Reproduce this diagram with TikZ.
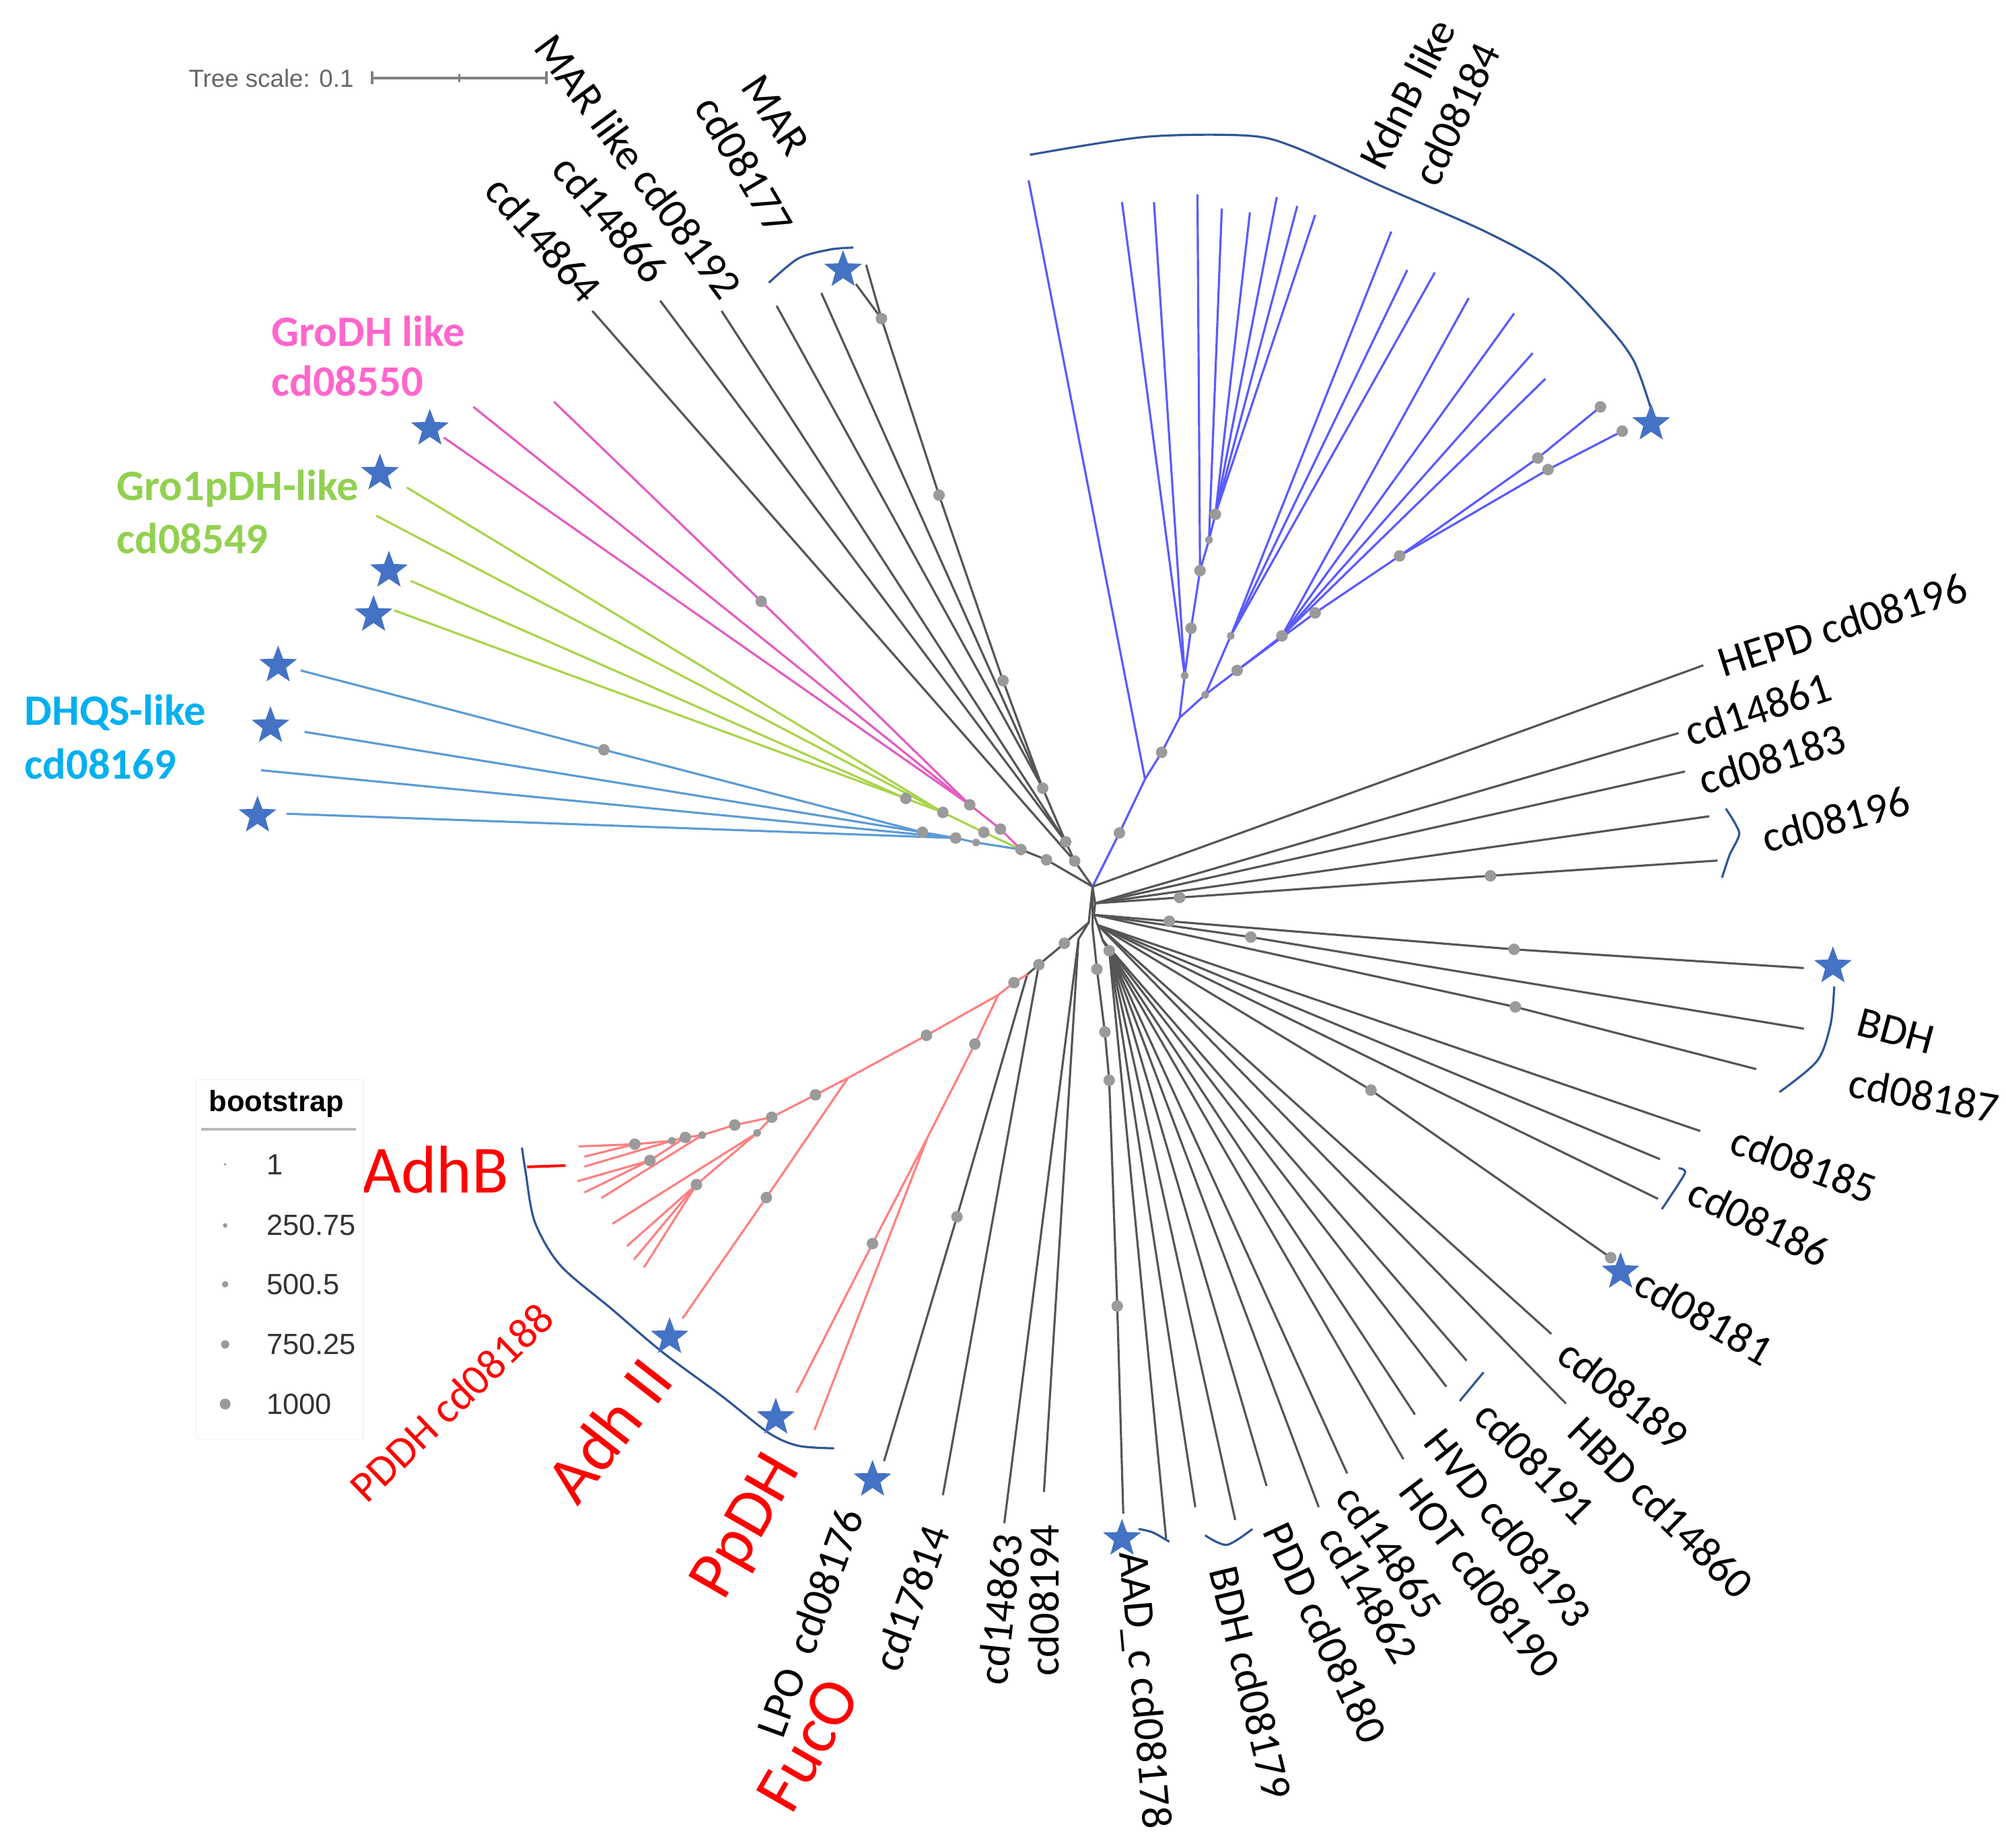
\documentclass[tikz,border=0pt]{standalone}
\usepackage{fontspec}
\setmainfont{Carlito}
\newfontfamily\arialf{Liberation Sans}
\usetikzlibrary{shapes.geometric}
\definecolor{brc}{HTML}{555555}
\definecolor{pinkc}{HTML}{E45BC0}
\definecolor{greenc}{HTML}{A8D44A}
\definecolor{bluec}{HTML}{5B9BD5}
\definecolor{kdc}{HTML}{5A5AFF}
\definecolor{redc}{HTML}{FF8080}
\definecolor{dotc}{HTML}{9A9A9A}
\definecolor{starc}{HTML}{4472C4}
\definecolor{arcc}{HTML}{2F5597}
\definecolor{lblred}{HTML}{FF0000}
\definecolor{lblpink}{HTML}{FF66CC}
\definecolor{lblgreen}{HTML}{92D050}
\definecolor{lblcyan}{HTML}{00B0F0}
\definecolor{scalec}{HTML}{666666}
\begin{document}
\begin{tikzpicture}[x=0.02cm,y=-0.02cm,
  brk/.style={draw=brc,line width=0.95pt},
  pk/.style={draw=pinkc,line width=0.95pt},
  gr/.style={draw=greenc,line width=0.95pt},
  bl/.style={draw=bluec,line width=0.95pt},
  kd/.style={draw=kdc,line width=0.95pt},
  rd/.style={draw=redc,line width=0.95pt},
  brack/.style={draw=arcc,line width=0.95pt},
  bstar/.style={star,star points=5,star point ratio=2.4,fill=starc,draw=none,minimum size=0.62cm,inner sep=0pt},
  lbl/.style={font=\fontsize{19.3}{23}\selectfont,inner sep=0pt},
  bigred/.style={font=\fontsize{30}{36}\selectfont,text=lblred,inner sep=0pt},
  grp/.style={font=\fontsize{19.3}{23}\selectfont\bfseries,inner sep=0pt,anchor=west},
  legt/.style={font=\arialf\fontsize{13}{15}\selectfont,text=black!80,inner sep=0pt,anchor=west}
]
\useasboundingbox (0,0) rectangle (1568,1444);
\fill[white] (0,0) rectangle (1568,1444);

% ---------- coordinates ----------
\coordinate (C) at (854,693);
% left coloured groups
\coordinate (J0) at (818,672);
\coordinate (J) at (798,664);
\coordinate (Pa) at (782,648);
\coordinate (Pb) at (758,629);
\coordinate (Pd) at (595,470);
\coordinate (P1) at (433,314);
\coordinate (P2) at (370,318);
\coordinate (P3) at (347,342);
\coordinate (Ga) at (769,650.5);
\coordinate (Gb) at (737,635);
\coordinate (Gc) at (708,624);
\coordinate (G1) at (318,381);
\coordinate (G2) at (294,403);
\coordinate (G3) at (321,454);
\coordinate (G4) at (308,477);
\coordinate (Ba) at (763,658.5);
\coordinate (Bb) at (747,655);
\coordinate (Bc) at (721,650.5);
\coordinate (Bd) at (472,586);
\coordinate (B1) at (235,524);
\coordinate (B2) at (238,572);
\coordinate (B3) at (204,602);
\coordinate (B4) at (224,636);
% MAR group
\coordinate (M0) at (840,673);
\coordinate (M1) at (833,658);
\coordinate (M2) at (815,616);
\coordinate (M3) at (784,532);
\coordinate (M4) at (734,387);
\coordinate (M5) at (689,249);
\coordinate (Ma) at (677,207);
\coordinate (Mb) at (669,222);
\coordinate (Mc) at (642,229);
\coordinate (Md) at (607,239);
\coordinate (Me) at (564,243);
\coordinate (Mf) at (516,235);
\coordinate (Mg) at (463,243);
% KdnB
\coordinate (K1) at (875,651);
\coordinate (K2) at (895,609);
\coordinate (K3) at (908,588);
\coordinate (K4) at (922,561);
\coordinate (K5) at (926,528);
\coordinate (K6) at (931,491);
\coordinate (K7) at (938,446);
\coordinate (K8) at (945,422);
\coordinate (K9) at (950,402);
\coordinate (K10) at (942,543);
\coordinate (K11) at (962,497);
\coordinate (K12) at (967,524);
\coordinate (K13) at (1002,497);
\coordinate (K14) at (1028,479);
\coordinate (K15) at (1094,434.5);
\coordinate (K16) at (1202,358);
\coordinate (K17) at (1210,367);
\coordinate (K18) at (1251,318);
\coordinate (K19) at (1268,337);
\coordinate (Ka) at (804,141);
\coordinate (Kb) at (877,158);
\coordinate (Kc) at (902,158);
\coordinate (Kd) at (936,152);
\coordinate (Ke) at (955,163);
\coordinate (Kf) at (977,166);
\coordinate (Kg) at (998,154);
\coordinate (Kh) at (1014,161);
\coordinate (Ki) at (1028,168);
\coordinate (Kj) at (1087.5,181);
\coordinate (Kk) at (1100,211);
\coordinate (Kl) at (1121.5,213);
\coordinate (Km) at (1148,233);
\coordinate (Kn) at (1183.5,245);
\coordinate (Ko) at (1198,276);
\coordinate (Kp) at (1208,296);
% right black
\coordinate (HE) at (1331.4,520);
\coordinate (Q0) at (856,706);
\coordinate (Q1) at (855,715);
\coordinate (Q2) at (858,723);
\coordinate (Q3) at (862,735);
\coordinate (Q4) at (867,743);
\coordinate (R1) at (1312,573);
\coordinate (R2) at (1317,603);
\coordinate (R3) at (1336,638);
\coordinate (R4) at (1342.5,672.6);
\coordinate (Rd1) at (922,701.5);
\coordinate (Rd2) at (1165,684.5);
\coordinate (Rs1) at (914,720);
\coordinate (Rs2) at (1183.5,742);
\coordinate (R5) at (1410,756.6);
\coordinate (Rs3) at (977.7,732.4);
\coordinate (R6) at (1410,804);
\coordinate (Rs4) at (1184.5,787);
\coordinate (R7) at (1372.8,835.6);
\coordinate (R8) at (1329,884);
\coordinate (R9) at (1297.5,906);
\coordinate (R10) at (1296,937);
\coordinate (Rs5) at (1071.6,852);
\coordinate (R11) at (1259,983);
\coordinate (R12) at (1212.6,1042.6);
\coordinate (R13) at (1224,1097);
\coordinate (R14) at (1146.4,1063.5);
\coordinate (R15) at (1130.5,1083.8);
\coordinate (R16) at (1106,1105.6);
\coordinate (R17) at (1097,1140.5);
\coordinate (R18) at (1053,1151.6);
\coordinate (R19) at (1030.8,1178);
\coordinate (R20) at (990,1161.4);
\coordinate (R21) at (965.5,1188);
\coordinate (R22) at (934.3,1178);
\coordinate (R23) at (911.5,1202.6);
\coordinate (Q5) at (854,725);
\coordinate (A1) at (857.4,757.5);
\coordinate (A2) at (863.6,806.6);
\coordinate (A3) at (867,844.3);
\coordinate (A4) at (873.3,1020.8);
\coordinate (R24) at (878,1183);
% bottom
\coordinate (U0) at (851,721);
\coordinate (U1) at (832,737.3);
\coordinate (U2) at (812,754);
\coordinate (U2b) at (803,761.5);
\coordinate (U3) at (792.6,768);
\coordinate (V0) at (843,734);
\coordinate (V1) at (785,1190.5);
\coordinate (V2) at (816,1166);
\coordinate (V3) at (737,1168.6);
\coordinate (Vd) at (748,951);
\coordinate (V4) at (691,1142);
% red
\coordinate (ra) at (780.3,777.6);
\coordinate (rb) at (762,816);
\coordinate (rc) at (725,889);
\coordinate (rdt) at (682,972);
\coordinate (w1) at (622.5,1088.6);
\coordinate (w2) at (636.6,1117.7);
\coordinate (rd) at (724.2,809.2);
\coordinate (re) at (662.8,842.5);
\coordinate (wd) at (599,936);
\coordinate (w3) at (533.5,1030.5);
\coordinate (F0) at (637.4,855.7);
\coordinate (F1) at (603.2,873.2);
\coordinate (F2) at (574.3,879.3);
\coordinate (F3) at (548.8,887.2);
\coordinate (F4) at (535.7,889);
\coordinate (F5) at (525.2,891.6);
\coordinate (F6) at (496.2,894.3);
\coordinate (F7) at (508,907);
\coordinate (F8) at (591.8,885.5);
\coordinate (F9) at (544.4,925.8);
\coordinate (Fa) at (452.4,896);
\coordinate (Fb) at (456.8,904);
\coordinate (Fc) at (456.8,911.8);
\coordinate (Fd) at (451.5,923.2);
\coordinate (Fe) at (456.8,932);
\coordinate (Ff) at (470,936.4);
\coordinate (Fg) at (490,974);
\coordinate (Fh) at (495.4,984.6);
\coordinate (Fi) at (503.3,990.7);
\coordinate (Fj) at (478.7,956.5);

% ---------- branches ----------
\draw[brk] (C) -- (J0) -- (J);
\draw[pk] (J) -- (Pa) -- (Pb) -- (Pd) -- (P1);
\draw[pk] (Pb) -- (P2);
\draw[pk] (Pb) -- (P3);
\draw[gr] (J) -- (Ga) -- (Gb) -- (Gc) -- (G3);
\draw[gr] (Gc) -- (G4);
\draw[gr] (Gb) -- (G1);
\draw[gr] (Gb) -- (G2);
\draw[bl] (J) -- (Ba) -- (Bb) -- (Bc) -- (Bd) -- (B1);
\draw[bl] (Bc) -- (B2);
\draw[bl] (Bb) -- (B3);
\draw[bl] (Bb) -- (B4);

\draw[brk] (C) -- (M0) -- (M1) -- (M2) -- (M3) -- (M4) -- (M5) -- (Ma);
\draw[brk] (M5) -- (Mb);
\draw[brk] (M2) -- (Mc);
\draw[brk] (M2) -- (Md);
\draw[brk] (M1) -- (Me);
\draw[brk] (M1) -- (Mf);
\draw[brk] (M0) -- (Mg);

\draw[kd] (C) -- (K1) -- (K2) -- (Ka);
\draw[kd] (K2) -- (K3) -- (K4) -- (K5) -- (Kb);
\draw[kd] (K5) -- (Kc);
\draw[kd] (K5) -- (K6) -- (K7) -- (Kd);
\draw[kd] (K7) -- (K8) -- (Ke);
\draw[kd] (K8) -- (K9) -- (Kf);
\draw[kd] (K9) -- (Kg);
\draw[kd] (K9) -- (Kh);
\draw[kd] (K9) -- (Ki);
\draw[kd] (K4) -- (K10) -- (K11) -- (Kj);
\draw[kd] (K11) -- (Kk);
\draw[kd] (K11) -- (Kl);
\draw[kd] (K10) -- (K12) -- (K13) -- (Km);
\draw[kd] (K13) -- (Kn);
\draw[kd] (K13) -- (Ko);
\draw[kd] (K13) -- (Kp);
\draw[kd] (K12) -- (K14) -- (K15) -- (K16) -- (K18);
\draw[kd] (K15) -- (K17) -- (K19);

\draw[brk] (C) -- (HE);
\draw[brk] (C) -- (Q0) -- (Q1) -- (Q2) -- (Q3) -- (Q4);
\draw[brk] (Q0) -- (R1);
\draw[brk] (Q0) -- (R2);
\draw[brk] (Q0) -- (R3);
\draw[brk] (Q0) -- (Rd1) -- (Rd2) -- (R4);
\draw[brk] (Q1) -- (Rs1) -- (Rs2) -- (R5);
\draw[brk] (Q1) -- (Rs3) -- (R6);
\draw[brk] (Q1) -- (Rs4) -- (R7);
\draw[brk] (Q2) -- (R8);
\draw[brk] (Q2) -- (R9);
\draw[brk] (Q2) -- (R10);
\draw[brk] (Q2) -- (Rs5) -- (R11);
\draw[brk] (Q2) -- (R12);
\draw[brk] (Q2) -- (R13);
\draw[brk] (Q3) -- (R14);
\draw[brk] (Q3) -- (R15);
\draw[brk] (Q3) -- (R16);
\draw[brk] (Q3) -- (R17);
\draw[brk] (Q4) -- (R18);
\draw[brk] (Q4) -- (R19);
\draw[brk] (Q4) -- (R20);
\draw[brk] (Q4) -- (R21);
\draw[brk] (Q4) -- (R22);
\draw[brk] (Q4) -- (R23);
\draw[brk] (C) -- (Q5) -- (A1) -- (A2) -- (A3) -- (A4) -- (R24);

\draw[brk] (C) -- (U0) -- (U1) -- (U2) -- (U2b);
\draw[brk] (U0) -- (V0) -- (V1);
\draw[brk] (V0) -- (V2);
\draw[brk] (U2) -- (V3);
\draw[brk] (U2b) -- (Vd) -- (V4);

\draw[rd] (U2b) -- (U3) -- (ra) -- (rb) -- (rc) -- (rdt) -- (w1);
\draw[rd] (rc) -- (w2);
\draw[rd] (ra) -- (rd) -- (re) -- (wd) -- (w3);
\draw[rd] (re) -- (F0) -- (F1) -- (F2) -- (F3) -- (F4) -- (F5) -- (F6) -- (Fa);
\draw[rd] (F6) -- (Fb);
\draw[rd] (F5) -- (Fc);
\draw[rd] (F4) -- (F7) -- (Fd);
\draw[rd] (F7) -- (Fe);
\draw[rd] (F3) -- (Ff);
\draw[rd] (F1) -- (F8) -- (F9) -- (Fg);
\draw[rd] (F9) -- (Fh);
\draw[rd] (F9) -- (Fi);
\draw[rd] (F8) -- (Fj);

% AdhB tick
\coordinate (ab1) at (412,912);
\coordinate (ab2) at (442,911);
\draw[draw=lblred,line width=1.2pt] (ab1) -- (ab2);

% ---------- brackets ----------
\draw[brack] plot[smooth] coordinates {(408,897) (411,917) (418,955) (438,989) (478,1023) (518,1057) (564,1091) (601,1120) (624,1130) (652,1132)};
\draw[brack] plot[smooth] coordinates {(805,121) (895,107) (975,106) (1012,115) (1081,146) (1161,181) (1214,211) (1256,254) (1277,282) (1290,318)};
\draw[brack] plot[smooth] coordinates {(601,221) (624,202) (649,195) (667,193.5)};
\draw[brack] plot[smooth] coordinates {(1391,853.5) (1420.5,829) (1431,800) (1433.7,771)};
\draw[brack] plot[smooth,tension=0.4] coordinates {(1349,632) (1359.5,651) (1352,668) (1346,686)};
\draw[brack] plot[smooth,tension=0.4] coordinates {(1312,913) (1317,917) (1299,945)};
\draw[brack] (1159.6,1072.6) -- (1141,1095);
\draw[brack] plot[smooth] coordinates {(890,1195) (901,1197.7) (914,1205)};
\draw[brack] plot[smooth] coordinates {(942,1200) (959,1207.4) (979,1195)};

% ---------- bootstrap dots ----------
\foreach \p in {J0,J,Pa,Pb,Pd,Ga,Gb,Gc,Bb,Bc,Bd,M0,M1,M2,M3,M4,M5,K1,K3,K6,K7,K9,K12,K13,K14,K15,K16,K17,K18,K19,Rd1,Rd2,Rs1,Rs2,Rs3,Rs4,Rs5,R11,Q4,A1,A2,A3,A4,U1,U2,U3,rb,rdt,rd,wd,F0,F1,F2,F4,F6,F7,F9,Vd}
  \fill[dotc] (\p) circle[radius=0.09cm];
\foreach \p in {K5,K8,K10,K11,Ba,F3,F5,F8}
  \fill[dotc] (\p) circle[radius=0.06cm];

% ---------- stars ----------
\node[bstar] (sMAR) at (659,211) {};
\node[bstar] (sPk) at (336,335) {};
\node[bstar] (sG1) at (297,370) {};
\node[bstar] (sG2) at (304,446) {};
\node[bstar] (sG3) at (292,480.5) {};
\node[bstar] (sB1) at (217.4,520) {};
\node[bstar] (sB2) at (211.4,567.4) {};
\node[bstar] (sB3) at (201.3,637.4) {};
\node[bstar] (sKd) at (1290.6,331) {};
\node[bstar] (sBDH) at (1432.7,755.2) {};
\node[bstar] (s181) at (1266.7,994.1) {};
\node[bstar] (sAAD) at (877,1202.6) {};
\node[bstar] (s176) at (682,1156.5) {};
\node[bstar] (sPp) at (606.4,1108) {};
\node[bstar] (sAdh) at (523.4,1045) {};

% ---------- labels ----------
\node[lbl,rotate=-53.5] (tMARl) at (499,130) {MAR like cd08192};
\node[lbl,rotate=-50] (t14866) at (477,171) {cd14866};
\node[lbl,rotate=-48.7] (t14864) at (425,187) {cd14864};
\node[lbl,rotate=-56] (tMAR) at (606,90) {MAR};
\node[lbl,rotate=-59.5] (t08177) at (582,129) {cd08177};
\node[lbl,rotate=63] (tKdnB) at (1100,73) {KdnB like};
\node[lbl,rotate=65] (t08184) at (1138,89) {cd08184};
\node[lbl,rotate=17.5] (tHEPD) at (1440,488) {HEPD cd08196};
\node[lbl,rotate=18] (t14861) at (1374,554) {cd14861};
\node[lbl,rotate=17] (t08183) at (1385,593) {cd08183};
\node[lbl,rotate=15] (t08196) at (1435,640) {cd08196};
\node[lbl,rotate=-15] (tBDH) at (1482,806) {BDH};
\node[lbl,rotate=-10] (t08187) at (1504,856) {cd08187};
\node[lbl,rotate=-20] (t08185) at (1410,910) {cd08185};
\node[lbl,rotate=-26] (t08186) at (1375,955) {cd08186};
\node[lbl,rotate=-30] (t08181) at (1332,1029) {cd08181};
\node[lbl,rotate=-38] (t08189) at (1269,1090) {cd08189};
\node[lbl,rotate=-44.5] (tHBD) at (1298.5,1178) {HBD cd14860};
\node[lbl,rotate=-46] (t08191) at (1200,1143) {cd08191};
\node[lbl,rotate=-51.5] (tHVD) at (1179,1194) {HVD cd08193};
\node[lbl,rotate=-53] (tHOT) at (1157,1233) {HOT cd08190};
\node[lbl,rotate=-55] (t14865) at (1086,1213) {cd14865};
\node[lbl,rotate=-59] (t14862) at (1070,1246) {cd14862};
\node[lbl,rotate=-65] (tPDD) at (1036,1276) {PDD cd08180};
\node[lbl,rotate=-76.5] (tBDH2) at (978,1315) {BDH cd08179};
\node[lbl,rotate=-85] (tAAD) at (894,1321) {AAD\_c cd08178};
\node[lbl,rotate=90] (t08194) at (816,1251) {cd08194};
\node[lbl,rotate=84] (t14863) at (781.5,1258) {cd14863};
\node[lbl,rotate=70] (t17814) at (712,1249) {cd17814};
\node[lbl,rotate=70] (tLPO) at (633,1268) {LPO\hspace{0.2em} cd08176};
\node[bigred,rotate=60] (tFucO) at (631.6,1363.5) {FucO};
\node[bigred,rotate=60] (tPpDH) at (585,1194) {PpDH};
\node[bigred,rotate=52] (tAdhII) at (475.6,1117.7) {Adh II};
\node[lbl,text=lblred,rotate=44] (tPDDH) at (353,1096) {PDDH cd08188};
\node[bigred] (tAdhB) at (340.4,914) {AdhB};

\node[grp,text=lblpink] (tGro1) at (212,259) {GroDH like};
\node[grp,text=lblpink] (tGro2) at (212,298) {cd08550};
\node[grp,text=lblgreen] (tG1p1) at (91,382) {Gro1pDH-like};
\node[grp,text=lblgreen] (tG1p2) at (91,421) {cd08549};
\node[grp,text=lblcyan] (tDH1) at (19,557) {DHQS-like};
\node[grp,text=lblcyan] (tDH2) at (19,597) {cd08169};

% ---------- tree scale ----------
\node[font=\arialf\fontsize{11}{13}\selectfont,text=scalec,inner sep=0pt] (tscale) at (212,61) {Tree scale: 0.1};
\coordinate (sc1) at (291,61);
\coordinate (sc2) at (427,61);
\draw[draw=gray,line width=1.1pt] (sc1) -- (sc2);
\draw[draw=gray,line width=1.1pt] (291,56) -- (291,66) (427,56) -- (427,66) (359,58) -- (359,64);

% ---------- legend ----------
\draw[draw=gray!12,fill=white] (153.5,844) rectangle (284,1125);
\node[font=\arialf\bfseries\fontsize{13}{15}\selectfont,inner sep=0pt] (legh) at (216,863) {bootstrap};
\draw[draw=gray!55,line width=1.3pt] (157.5,882.6) -- (278,882.6);
\fill[dotc] (176,910) circle[radius=0.02cm];
\fill[dotc] (176,957.8) circle[radius=0.035cm];
\fill[dotc] (176,1003.8) circle[radius=0.05cm];
\fill[dotc] (176,1050.8) circle[radius=0.065cm];
\fill[dotc] (176,1097.4) circle[radius=0.085cm];
\node[legt] (l1) at (208,910) {1};
\node[legt] (l2) at (208,957.8) {250.75};
\node[legt] (l3) at (208,1003.8) {500.5};
\node[legt] (l4) at (208,1050.8) {750.25};
\node[legt] (l5) at (208,1097.4) {1000};
\end{tikzpicture}
\end{document}
